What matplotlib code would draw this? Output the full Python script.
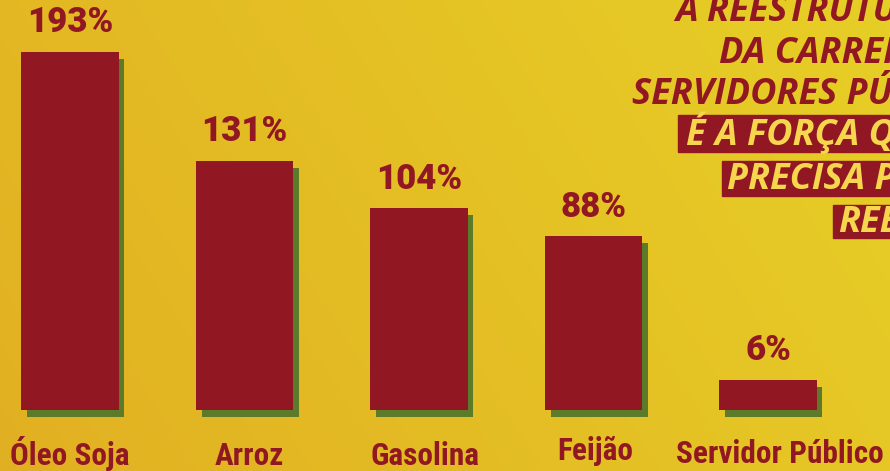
import numpy as np
import matplotlib
matplotlib.use("Agg")
import matplotlib.pyplot as plt
import matplotlib.patheffects as pe
from matplotlib.patches import Rectangle

# data
categories = ["Óleo Soja", "Arroz", "Gasolina", "Feijão", "Servidor Público"]
values = [193, 131, 104, 88, 6]
value_labels = ["193%", "131%", "104%", "88%", "6%"]

headline = ["A REESTRUTURAÇÃO", "DA CARREIRA DOS", "SERVIDORES PÚBLICOS"]
highlight = ["É A FORÇA QUE O", "PRECISA PARA", "REERGUER"]

RED = "#911822"
GREEN = "#5b7b2b"
PALE = "#f6d64c"

W, H = 890, 471
fig = plt.figure(figsize=(W / 100, H / 100), dpi=100)

# background
bg = fig.add_axes([0, 0, 1, 1])
gx = np.linspace(0, 1, 300)
gy = np.linspace(0, 1, 160)
X, Y = np.meshgrid(gx, gy)
c0 = np.array([0.885, 0.69, 0.135])
c1 = np.array([0.905, 0.81, 0.15])
t = np.clip(0.75 * X + 0.25 * Y, 0, 1)[..., None]
bg.imshow(c0 * (1 - t) + c1 * t, aspect="auto", extent=[0, 1, 0, 1], origin="lower")
bg.set_axis_off()

ax = fig.add_axes([0, 0, 1, 1])
ax.patch.set_alpha(0)
x = np.arange(len(categories))
base = -11
bars = ax.bar(x, np.array(values) - base, bottom=base, width=0.556, color=RED, zorder=3)
for b in bars:
    b.set_path_effects([pe.SimplePatchShadow(offset=(4.3, -5), shadow_rgbFace=GREEN, alpha=1),
                        pe.Normal()])
ax.set_xlim(-70 / 174.5, (W - 70) / 174.5)
ax.set_ylim(-(H - 390.5) / 1.754, 390.5 / 1.754)
ax.set_axis_off()

for xi, v, lab in zip(x, values, value_labels):
    ax.annotate(lab, (xi, v), xytext=(0, 9), textcoords="offset points",
                ha="center", va="bottom", color=RED, fontsize=25,
                fontweight="heavy", family=["Roboto", "DejaVu Sans"])

# category labels under the bars
cat_font = ["Roboto Condensed", "Liberation Sans Narrow", "DejaVu Sans", "Roboto"]
label_y = [465, 465, 465, 460, 463]
label_dx = [0, 5, 6, 2, 12]
for xi, c, ly, dx in zip(x, categories, label_y, label_dx):
    fig.text((70 + xi * 174.5 + dx) / W, 1 - ly / H, c,
             ha="center", va="baseline", color=RED, fontsize=22.5,
             fontweight="bold", family=cat_font)

# headline block on the right
tf = dict(color=RED, fontsize=26, fontweight="bold", fontstyle="italic",
          family=["Open Sans", "DejaVu Sans"], ha="left", va="baseline")
for txt, lx, ly in zip(headline, [675, 719, 632], [21, 63, 104]):
    fig.text(lx / W, 1 - ly / H, txt, **tf)

boxes = [(678, 115, 152), (722, 161, 196), (833, 205, 238)]
for txt, (bx, top, bot), tx, ty in zip(highlight, boxes, [686, 727, 838], [145, 189, 232]):
    fig.patches.append(Rectangle((bx / W, 1 - bot / H), 1, (bot - top) / H,
                                 transform=fig.transFigure, color=RED, zorder=1))
    fig.text(tx / W, 1 - ty / H, txt, **{**tf, "color": PALE})

fig.savefig("out.png", dpi=100)
